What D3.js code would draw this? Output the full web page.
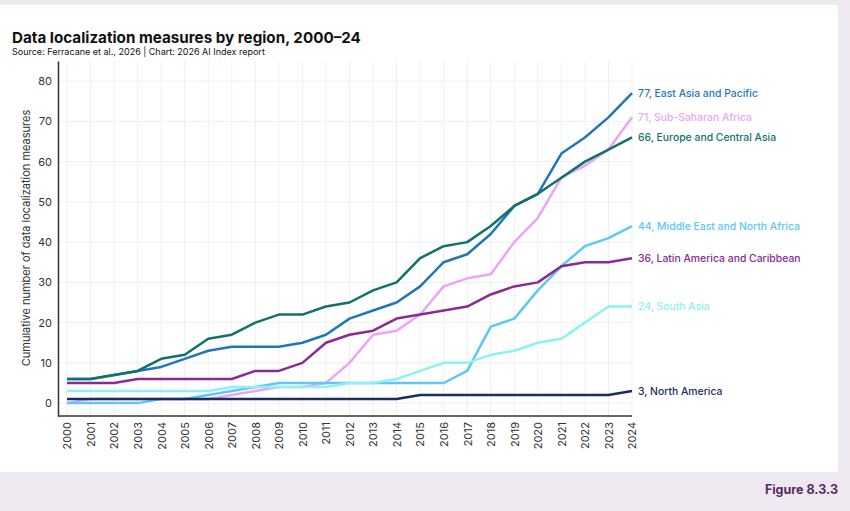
<!DOCTYPE html>
<html>
<head>
<meta charset="utf-8">
<script src="https://cdn.jsdelivr.net/npm/d3@7"></script>
<style>
  body { margin: 0; background: #eee8f1; }
  svg { display: block; font-family: Inter, "Noto Sans", sans-serif; }
</style>
</head>
<body>
<script>
// Data
// =================================
var years = d3.range(2000, 2025);

var regions = [
  "East Asia and Pacific",
  "Sub-Saharan Africa",
  "Europe and Central Asia",
  "Middle East and North Africa",
  "Latin America and Caribbean",
  "South Asia",
  "North America"
];

var eastAsiaPacific = [6, 6, 7, 8, 9, 11, 13, 14, 14, 14, 15, 17, 21, 23, 25, 29, 35, 37, 42, 49, 52, 62, 66, 71, 77];
var subSaharanAfrica = [0, 1, 1, 1, 1, 1, 1, 2, 3, 4, 4, 5, 10, 17, 18, 22, 29, 31, 32, 40, 46, 56, 59, 63, 71];
var europeCentralAsia = [6, 6, 7, 8, 11, 12, 16, 17, 20, 22, 22, 24, 25, 28, 30, 36, 39, 40, 44, 49, 52, 56, 60, 63, 66];
var middleEastNorthAfrica = [0, 0, 0, 0, 1, 1, 2, 3, 4, 5, 5, 5, 5, 5, 5, 5, 5, 8, 19, 21, 28, 34, 39, 41, 44];
var latinAmericaCaribbean = [5, 5, 5, 6, 6, 6, 6, 6, 8, 8, 10, 15, 17, 18, 21, 22, 23, 24, 27, 29, 30, 34, 35, 35, 36];
var southAsia = [3, 3, 3, 3, 3, 3, 3, 4, 4, 4, 4, 4, 5, 5, 6, 8, 10, 10, 12, 13, 15, 16, 20, 24, 24];
var northAmerica = [1, 1, 1, 1, 1, 1, 1, 1, 1, 1, 1, 1, 1, 1, 1, 2, 2, 2, 2, 2, 2, 2, 2, 2, 3];

var seriesValues = [eastAsiaPacific, subSaharanAfrica, europeCentralAsia, middleEastNorthAfrica,
  latinAmericaCaribbean, southAsia, northAmerica];
var colors = ["#1f77b8", "#eaa5f6", "#11716b", "#5cc8f7", "#8a2a94", "#8ff0f6", "#1b2d5c"];
var yTicks = [0, 10, 20, 30, 40, 50, 60, 70, 80];

// Setup
// =================================
var svgWidth = 850;
var svgHeight = 511;

var svg = d3.select("body").append("svg")
  .attr("width", svgWidth)
  .attr("height", svgHeight);

// white card
svg.append("rect")
  .attr("x", 0).attr("y", 5)
  .attr("width", 838).attr("height", 467)
  .attr("fill", "#ffffff");

svg.append("text")
  .attr("x", 12).attr("y", 43)
  .attr("font-size", "15.2px")
  .attr("font-weight", 700)
  .attr("fill", "#111")
  .text("Data localization measures by region, 2000–24");

svg.append("text")
  .attr("x", 12).attr("y", 55)
  .attr("font-size", "9px")
  .attr("fill", "#111")
  .text("Source: Ferracane et al., 2026 | Chart: 2026 AI Index report");

svg.append("text")
  .attr("x", 838).attr("y", 494)
  .attr("text-anchor", "end")
  .attr("font-size", "12.5px")
  .attr("font-weight", 700)
  .attr("fill", "#5a2b62")
  .text("Figure 8.3.3");

// Scales
// =================================
var xScale = d3.scaleLinear().domain([2000, 2024]).range([67, 632]);
var yScale = d3.scaleLinear().domain([-3.2, 85]).range([416, 61]);

var axisLeftX = 58;

// Grid
// =================================
var grid = svg.append("g");
grid.selectAll(".hgrid").data(yTicks).enter().append("line")
  .attr("x1", axisLeftX).attr("x2", xScale(2024))
  .attr("y1", d => yScale(d)).attr("y2", d => yScale(d))
  .attr("stroke", "#f0f0f0").attr("stroke-width", 1);
grid.selectAll(".vgrid").data(years).enter().append("line")
  .attr("x1", d => xScale(d)).attr("x2", d => xScale(d))
  .attr("y1", yScale(85)).attr("y2", yScale(-3.2))
  .attr("stroke", "#f0f0f0").attr("stroke-width", 1);

// Axes
// =================================
var leftAxis = d3.axisLeft(yScale).tickValues(yTicks).tickSize(0).tickPadding(6);
var gy = svg.append("g")
  .attr("transform", `translate(${axisLeftX}, 0)`)
  .call(leftAxis);
gy.select(".domain").attr("stroke", "#333").attr("stroke-width", 1.5);
gy.selectAll("text").attr("font-size", "11px").attr("fill", "#333").attr("font-family", "Inter, sans-serif");

var bottomAxis = d3.axisBottom(xScale).tickValues(years).tickFormat(d3.format("d")).tickSize(0).tickPadding(6);
var gx = svg.append("g")
  .attr("transform", `translate(0, ${yScale(-3.2)})`)
  .call(bottomAxis);
gx.select(".domain").remove();
gx.append("line")
  .attr("x1", axisLeftX).attr("x2", xScale(2024))
  .attr("stroke", "#333").attr("stroke-width", 1.5);
gx.selectAll(".tick text")
  .attr("font-size", "11px").attr("fill", "#333").attr("font-family", "Inter, sans-serif")
  .attr("transform", "rotate(-90)")
  .attr("text-anchor", "end")
  .attr("x", -6).attr("y", 0).attr("dy", "0.35em");

svg.append("text")
  .attr("transform", `translate(30, 238) rotate(-90)`)
  .attr("text-anchor", "middle")
  .attr("font-size", "11px")
  .attr("fill", "#333")
  .text("Cumulative number of data localization measures");

// Lines
// =================================
var line = d3.line()
  .x((d, i) => xScale(years[i]))
  .y(d => yScale(d));

svg.append("g").selectAll("path")
  .data(seriesValues)
  .enter()
  .append("path")
  .attr("d", d => line(d))
  .attr("fill", "none")
  .attr("stroke", (d, i) => colors[i])
  .attr("stroke-width", 2.5)
  .attr("stroke-linejoin", "round");

// End labels
svg.append("g").selectAll("text")
  .data(seriesValues)
  .enter()
  .append("text")
  .attr("x", xScale(2024) + 6)
  .attr("y", d => yScale(d[d.length - 1]))
  .attr("dy", "0.35em")
  .attr("font-size", "10.4px")
  .attr("font-weight", 500)
  .attr("fill", (d, i) => colors[i])
  .text((d, i) => d[d.length - 1] + ", " + regions[i]);
</script>
</body>
</html>
